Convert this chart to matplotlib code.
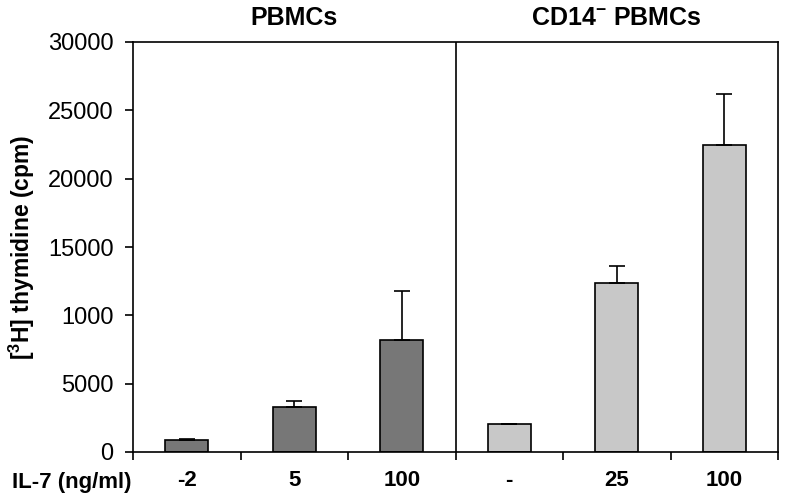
import numpy as np
import matplotlib.pyplot as plt

# data
groups = ['PBMCs', 'CD14$^{\\mathbf{-}}$ PBMCs']
doses = ['-2', '5', '100', '-', '25', '100']
pbmc_mean = [850, 3300, 8200]
pbmc_err = [100, 450, 3550]
cd14_mean = [2050, 12400, 22450]
cd14_err = [0, 1200, 3750]
yticks = [0, 5000, 10000, 15000, 20000, 25000, 30000]
ytick_labels = ['0', '5000', '1000', '15000', '20000', '25000', '30000']

plt.rcParams['font.family'] = ['Liberation Sans', 'DejaVu Sans']
plt.rcParams['mathtext.fontset'] = 'custom'
plt.rcParams['mathtext.rm'] = 'Liberation Sans'
plt.rcParams['mathtext.bf'] = 'Liberation Sans:bold'

fig = plt.figure(figsize=(7.86, 4.95), dpi=100)
ax = fig.add_axes([133 / 786, 1 - 452 / 495, 645 / 786, 410 / 495])

x = np.arange(6)
w = 0.4
ekw = dict(ecolor='black', elinewidth=1.2, capsize=6, capthick=1.2)
ax.bar(x[:3], pbmc_mean, w, color='#777777', edgecolor='black', linewidth=1.2,
       yerr=[np.zeros(3), pbmc_err], error_kw=ekw)
ax.bar(x[3:], cd14_mean, w, color='#c8c8c8', edgecolor='black', linewidth=1.2,
       yerr=[np.zeros(3), cd14_err], error_kw=ekw)

ax.set_xlim(-0.5, 5.5)
ax.set_ylim(0, 30000)
ax.axvline(2.5, color='black', linewidth=1.2)

ax.set_yticks(yticks)
ax.set_yticklabels(ytick_labels, fontsize=17)
ax.set_xticks(np.arange(-0.5, 6, 1))
ax.set_xticklabels([])
ax.tick_params(axis='both', direction='out', length=6, width=1.2)
ax.tick_params(axis='y', pad=8)
ax.set_xticks(x, minor=True)
ax.set_xticklabels(doses, minor=True, fontsize=16, fontweight='bold')
ax.tick_params(axis='x', which='minor', length=0, pad=13)
for s in ax.spines.values():
    s.set_linewidth(1.2)

ax.set_ylabel('[$^{\\mathbf{3}}$H] thymidine (cpm)', fontsize=16.5, fontweight='bold', labelpad=8)
ax.text(-0.002, -0.075, 'IL-7 (ng/ml)', transform=ax.transAxes, ha='right', va='center',
        fontsize=16, fontweight='bold')
ax.text(1, 1.058, groups[0], transform=ax.get_xaxis_transform(), ha='center', va='center',
        fontsize=18, fontweight='bold')
ax.text(4, 1.058, groups[1], transform=ax.get_xaxis_transform(), ha='center', va='center',
        fontsize=18, fontweight='bold')

fig.savefig('out.png', dpi=100)
